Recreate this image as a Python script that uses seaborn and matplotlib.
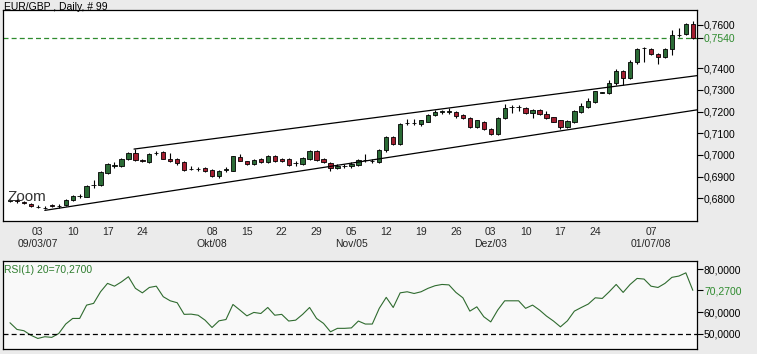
import numpy as np
import pandas as pd
import matplotlib
matplotlib.use("Agg")
import matplotlib.pyplot as plt
import seaborn as sns

# ---------------- data ----------------
opens = [0.6788, 0.6793, 0.6783, 0.6772, 0.6760, 0.6757, 0.6767, 0.6763, 0.6767, 0.6790,
         0.6809, 0.6808, 0.6861, 0.6860, 0.6918, 0.6951, 0.6950, 0.6980, 0.7008, 0.6978,
         0.6967, 0.7007, 0.7013, 0.6981, 0.6981, 0.6967, 0.6936, 0.6935, 0.6939, 0.6932,
         0.6901, 0.6932, 0.6928, 0.6990, 0.6970, 0.6958, 0.6981, 0.6967, 0.6996, 0.6980,
         0.6982, 0.6962, 0.6959, 0.6982, 0.7019, 0.6981, 0.6962, 0.6940, 0.6947, 0.6947,
         0.6955, 0.6975, 0.6973, 0.6966, 0.7021, 0.7082, 0.7051, 0.7147, 0.7147, 0.7142,
         0.7154, 0.7185, 0.7200, 0.7200, 0.7200, 0.7184, 0.7170, 0.7128, 0.7154, 0.7119,
         0.7097, 0.7170, 0.7222, 0.7222, 0.7216, 0.7193, 0.7208, 0.7188, 0.7173, 0.7159,
         0.7128, 0.7154, 0.7200, 0.7223, 0.7244, 0.7288, 0.7285, 0.7331, 0.7388, 0.7357,
         0.7431, 0.7492, 0.7489, 0.7466, 0.7454, 0.7489, 0.7554, 0.7557, 0.7603]
highs = [0.6798, 0.6797, 0.6787, 0.6776, 0.6767, 0.6764, 0.6774, 0.6774, 0.6798, 0.6817,
         0.6819, 0.6862, 0.6882, 0.6925, 0.6963, 0.6966, 0.6987, 0.7012, 0.7028, 0.6982,
         0.7008, 0.7020, 0.7017, 0.7010, 0.6985, 0.6971, 0.6950, 0.6943, 0.6943, 0.6936,
         0.6932, 0.6942, 0.6997, 0.7005, 0.6974, 0.6982, 0.6985, 0.7000, 0.7000, 0.6984,
         0.6986, 0.6970, 0.6989, 0.7023, 0.7023, 0.6985, 0.6966, 0.6956, 0.6958, 0.6966,
         0.6982, 0.7003, 0.6982, 0.7028, 0.7086, 0.7086, 0.7148, 0.7166, 0.7166, 0.7163,
         0.7189, 0.7208, 0.7208, 0.7218, 0.7204, 0.7188, 0.7174, 0.7163, 0.7158, 0.7123,
         0.7174, 0.7235, 0.7232, 0.7232, 0.7220, 0.7212, 0.7212, 0.7205, 0.7177, 0.7163,
         0.7161, 0.7209, 0.7238, 0.7262, 0.7297, 0.7291, 0.7345, 0.7395, 0.7392, 0.7440,
         0.7493, 0.7497, 0.7493, 0.7470, 0.7495, 0.7575, 0.7585, 0.7610, 0.7618]
lows = [0.6784, 0.6778, 0.6774, 0.6759, 0.6754, 0.6751, 0.6760, 0.6757, 0.6764, 0.6786,
        0.6803, 0.6804, 0.6846, 0.6856, 0.6914, 0.6940, 0.6944, 0.6976, 0.6970, 0.6966,
        0.6963, 0.7000, 0.6979, 0.6968, 0.6955, 0.6928, 0.6930, 0.6924, 0.6920, 0.6900,
        0.6895, 0.6922, 0.6924, 0.6970, 0.6954, 0.6953, 0.6964, 0.6963, 0.6966, 0.6968,
        0.6950, 0.6950, 0.6955, 0.6978, 0.6973, 0.6962, 0.6925, 0.6935, 0.6940, 0.6940,
        0.6950, 0.6968, 0.6963, 0.6962, 0.7015, 0.7045, 0.7047, 0.7138, 0.7138, 0.7135,
        0.7150, 0.7180, 0.7190, 0.7190, 0.7172, 0.7166, 0.7124, 0.7124, 0.7114, 0.7093,
        0.7093, 0.7165, 0.7195, 0.7205, 0.7188, 0.7170, 0.7183, 0.7164, 0.7150, 0.7120,
        0.7122, 0.7148, 0.7195, 0.7218, 0.7240, 0.7286, 0.7280, 0.7322, 0.7325, 0.7352,
        0.7420, 0.7430, 0.7460, 0.7420, 0.7448, 0.7460, 0.7545, 0.7552, 0.7535]
closes = [0.6793, 0.6788, 0.6778, 0.6763, 0.6761, 0.6756, 0.6766, 0.6766, 0.6793, 0.6812,
          0.6811, 0.6858, 0.6863, 0.6920, 0.6958, 0.6953, 0.6982, 0.7008, 0.6975, 0.6971,
          0.7003, 0.7008, 0.6983, 0.6972, 0.6963, 0.6932, 0.6937, 0.6936, 0.6925, 0.6904,
          0.6928, 0.6933, 0.6993, 0.6974, 0.6958, 0.6978, 0.6968, 0.6996, 0.6970, 0.6973,
          0.6955, 0.6963, 0.6985, 0.7019, 0.6978, 0.6967, 0.6939, 0.6948, 0.6948, 0.6960,
          0.6978, 0.6976, 0.6974, 0.7024, 0.7082, 0.7051, 0.7144, 0.7148, 0.7148, 0.7159,
          0.7185, 0.7200, 0.7201, 0.7201, 0.7180, 0.7170, 0.7128, 0.7159, 0.7119, 0.7097,
          0.7170, 0.7216, 0.7223, 0.7223, 0.7193, 0.7208, 0.7188, 0.7170, 0.7154, 0.7128,
          0.7157, 0.7205, 0.7228, 0.7250, 0.7293, 0.7289, 0.7331, 0.7388, 0.7357, 0.7431,
          0.7489, 0.7493, 0.7465, 0.7454, 0.7489, 0.7554, 0.7555, 0.7603, 0.7540]
rsi = [55.2, 52.1, 51.5, 49.4, 47.9, 48.7, 48.4, 50.2, 54.6, 57.2,
       57.2, 63.4, 64.2, 69.6, 73.5, 72.2, 74.2, 76.6, 71.2, 69.1,
       71.6, 72.2, 67.3, 65.4, 64.5, 59.1, 59.2, 58.7, 56.4, 53.0,
       56.1, 56.7, 63.7, 61.1, 58.4, 60.0, 59.5, 62.3, 58.7, 59.1,
       56.0, 56.4, 59.1, 62.3, 57.2, 54.9, 51.0, 52.6, 52.6, 52.8,
       56.0, 54.6, 54.6, 61.9, 67.0, 62.3, 69.1, 69.6, 68.8, 69.6,
       71.2, 72.4, 73.0, 72.8, 69.3, 66.8, 60.6, 62.6, 58.0, 55.6,
       61.1, 65.4, 65.4, 65.4, 61.9, 63.4, 61.1, 58.3, 56.0, 53.3,
       56.1, 60.6, 62.3, 63.9, 66.8, 66.5, 69.6, 73.0, 69.3, 73.0,
       75.8, 75.5, 72.2, 71.6, 73.5, 76.3, 76.9, 78.4, 70.27]

day_ticks = [4, 9, 14, 19, 29, 34, 39, 44, 49, 54, 59, 64, 69, 74, 79, 84, 92]
day_labels = ["03\n09/03/07", "10", "17", "24", "08\nOkt/08", "15", "22", "29",
              "05\nNov/05", "12", "19", "26", "03\nDez/03", "10", "17", "24", "07\n01/07/08"]

upper_x = [17.8, 98.6]
upper_y = [0.7027, 0.7366]
lower_x = [5.0, 98.6]
lower_y = [0.6744, 0.7208]

last_price = 0.7540
price_ticks = [0.68, 0.69, 0.70, 0.71, 0.72, 0.73, 0.74, 0.7540, 0.76]
rsi_last = 70.27
rsi_ticks = [50.0, 60.0, 70.27, 80.0]
rsi_level = 50.0

# ---------------- style ----------------
sns.set_style("white")
plt.rcParams['font.family'] = ['Liberation Sans', 'DejaVu Sans']
FS = 7.5
BG = '#EBEBEB'
GREEN_TXT = '#2E8B2E'
UP = '#2B6B36'
DOWN = '#A31E30'

df = pd.DataFrame({"i": np.arange(len(closes)), "o": opens, "h": highs, "l": lows,
                   "c": closes, "rsi": rsi})

fig = plt.figure(figsize=(7.57, 3.54), dpi=100, facecolor=BG)
W, H = 757, 354
ax = fig.add_axes([3 / W, 1 - 221 / H, 694 / W, 211 / H])
ax2 = fig.add_axes([3 / W, 1 - 349 / H, 694 / W, 88 / H])
ax.set_facecolor('white')
ax2.set_facecolor('#F9F9F9')

# candles
ax.vlines(df["i"], df["l"], df["h"], color='black', lw=0.8, zorder=2)
body_h = (df["c"] - df["o"]).to_numpy()
body_h = np.where(np.abs(body_h) < 0.00005, 0.00005, body_h)
cols = [UP if c >= o else DOWN for o, c in zip(df["o"], df["c"])]
ax.bar(df["i"], body_h, bottom=df["o"], width=0.62, color=cols,
       edgecolor='black', linewidth=0.6, zorder=3)

# channel lines
sns.lineplot(x=upper_x, y=upper_y, ax=ax, color='black', lw=0.9, zorder=4)
sns.lineplot(x=lower_x, y=lower_y, ax=ax, color='black', lw=0.9, zorder=4)
ax.axhline(last_price, color='#2E8B2E', lw=0.9, dashes=(4, 2.5), zorder=1)

ax.set_xlim(-1.0, 98.6)
ax.set_ylim(0.6695, 0.7669)
ax.yaxis.tick_right()
ax.set_yticks(price_ticks)
ax.set_yticklabels([f"{v:.4f}".replace('.', ',') for v in price_ticks])
for lab, v in zip(ax.get_yticklabels(), price_ticks):
    if abs(v - last_price) < 1e-6:
        lab.set_color(GREEN_TXT)
ax.set_xticks(day_ticks)
ax.set_xticklabels(day_labels, linespacing=1.25)
ax.tick_params(axis='y', which='both', right=True, left=False, length=4, width=0.8,
               pad=1, labelsize=FS, colors='black')
for lab, v in zip(ax.get_yticklabels(), price_ticks):
    if abs(v - last_price) < 1e-6:
        lab.set_color(GREEN_TXT)
ax.tick_params(axis='x', length=0, pad=4, labelsize=FS)
ax.set_xlabel(''); ax.set_ylabel('')
for s in ax.spines.values():
    s.set_visible(True)
    s.set_color('black')
    s.set_linewidth(0.9)

ax.text(0.007, 0.114, "Zoom", transform=ax.transAxes, fontsize=11, color='#333333',
        va='center', ha='left', zorder=5)

# RSI
sns.lineplot(data=df, x="i", y="rsi", ax=ax2, color='#2F6B2F', lw=0.8)
ax2.axhline(rsi_level, color='black', lw=0.9, dashes=(4, 2.5))
ax2.set_xlim(-1.0, 98.6)
ax2.set_ylim(43.0, 83.9)
ax2.yaxis.tick_right()
ax2.set_yticks(rsi_ticks)
ax2.set_yticklabels([f"{v:.4f}".replace('.', ',') for v in rsi_ticks])
ax2.tick_params(axis='y', right=True, left=False, length=4, width=0.8, pad=1,
                labelsize=FS, colors='black')
for lab, v in zip(ax2.get_yticklabels(), rsi_ticks):
    if abs(v - rsi_last) < 1e-6:
        lab.set_color(GREEN_TXT)
ax2.set_xticks([])
ax2.set_xlabel(''); ax2.set_ylabel('')
for s in ax2.spines.values():
    s.set_visible(True)
    s.set_color('black')
    s.set_linewidth(0.9)
ax2.text(0.002, 0.955, "RSI(1) 20=" + f"{rsi_last:.4f}".replace('.', ','),
         transform=ax2.transAxes, fontsize=FS, color='#2E7D2E', va='top', ha='left')

fig.text(4 / W, 1 - 10 / H, "EUR/GBP , Daily, # 99", fontsize=FS, color='black',
         va='baseline', ha='left')

fig.savefig("out.png", dpi=100, facecolor=BG)
